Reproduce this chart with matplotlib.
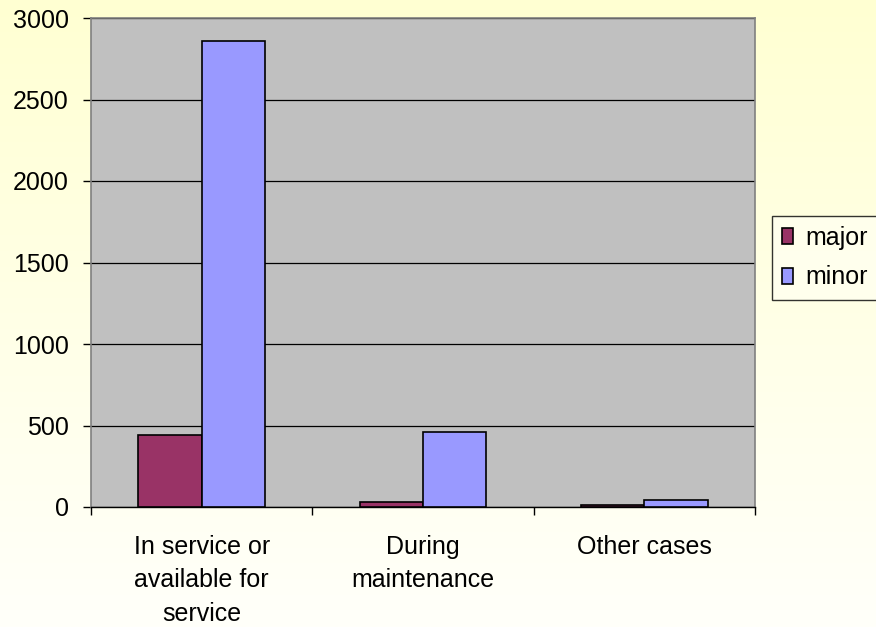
import numpy as np
import matplotlib.pyplot as plt
from matplotlib.colors import LinearSegmentedColormap

plt.rcParams['font.family'] = ['Liberation Sans', 'DejaVu Sans']

# --- Data ---
categories = ['In service or\navailable for\nservice', 'During\nmaintenance', 'Other cases']
major = [440, 30, 12]
minor = [2860, 460, 45]
series_names = ['major', 'minor']
series_colors = ['#993366', '#9999FF']
y_ticks = [0, 500, 1000, 1500, 2000, 2500, 3000]

fig = plt.figure(figsize=(8.76, 6.27), dpi=100)

# pale yellow backdrop fading to white
bg = fig.add_axes([0, 0, 1, 1], zorder=-10)
grad = np.linspace(0, 1, 256).reshape(-1, 1)
cmap = LinearSegmentedColormap.from_list('bg', ['#FFFFD2', '#FFFFFA'])
bg.imshow(grad, aspect='auto', cmap=cmap, extent=[0, 1, 0, 1])
bg.set_axis_off()

ax = fig.add_axes([91 / 876, 1 - 507 / 627, (755 - 91) / 876, (507 - 18) / 627])
ax.set_facecolor('#C0C0C0')

x = np.arange(len(categories))
w = 1 / 3.5
ax.bar(x - w / 2, major, width=w, color=series_colors[0], edgecolor='black',
       linewidth=1.2, label=series_names[0], zorder=3)
ax.bar(x + w / 2, minor, width=w, color=series_colors[1], edgecolor='black',
       linewidth=1.2, label=series_names[1], zorder=3)

ax.set_xlim(-0.5, len(categories) - 0.5)
ax.set_ylim(0, 3000)
ax.set_yticks(y_ticks)
ax.yaxis.grid(True, color='black', linewidth=0.9, zorder=1)
ax.set_axisbelow(True)

# category ticks sit on the boundaries, labels in the middle
ax.set_xticks(np.arange(len(categories) + 1) - 0.5)
ax.set_xticklabels([])
ax.set_xticks(x, minor=True)
ax.set_xticklabels(categories, minor=True, fontsize=18, linespacing=1.5)
ax.tick_params(axis='x', which='major', length=6, width=1, color='black')
ax.tick_params(axis='x', which='minor', length=0, pad=20)
ax.tick_params(axis='y', length=6, width=1, pad=10, labelsize=18, color='black')

for side in ['top', 'right', 'left']:
    ax.spines[side].set_color('#808080')
    ax.spines[side].set_linewidth(1.2)
ax.spines['bottom'].set_color('black')
ax.spines['bottom'].set_linewidth(1)

leg = fig.legend(loc='upper left', bbox_to_anchor=(772 / 876, 1 - 216 / 627),
                 fontsize=18, frameon=True, fancybox=False, handlelength=0.45,
                 handleheight=0.6, handletextpad=0.5, borderpad=0.4,
                 labelspacing=0.62, borderaxespad=0)
leg.get_frame().set_edgecolor('black')
leg.get_frame().set_linewidth(1)
leg.get_frame().set_facecolor('#FFFFF0')

fig.savefig('out.png', dpi=100)
